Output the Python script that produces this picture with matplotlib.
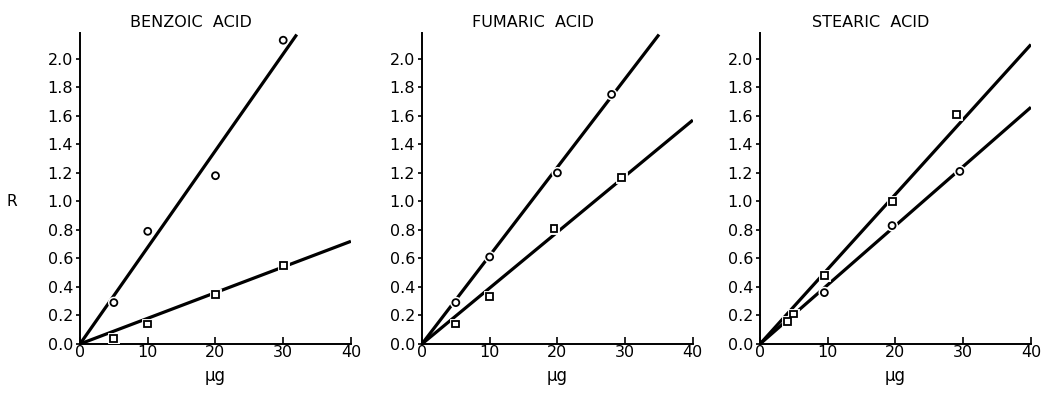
import matplotlib.pyplot as plt
import numpy as np
import matplotlib.patheffects as pe

# measured points (x in ug, R)
benz_circ_x = [5, 10, 20, 30]
benz_circ_y = [0.29, 0.79, 1.18, 2.13]
benz_sq_x = [5, 10, 20, 30]
benz_sq_y = [0.04, 0.14, 0.35, 0.55]
benz_fit1_x, benz_fit1_y = [0, 32], [0, 2.17]
benz_fit2_x, benz_fit2_y = [0, 40], [0, 0.72]

fum_circ_x = [5, 10, 20, 28]
fum_circ_y = [0.29, 0.61, 1.20, 1.75]
fum_sq_x = [5, 10, 19.5, 29.5]
fum_sq_y = [0.14, 0.33, 0.81, 1.17]
fum_fit1_x, fum_fit1_y = [0, 35], [0, 2.17]
fum_fit2_x, fum_fit2_y = [0, 40], [0, 1.57]

ste_sq_x = [4, 5, 9.5, 19.5, 29]
ste_sq_y = [0.16, 0.21, 0.48, 1.00, 1.61]
ste_circ_x = [9.5, 19.5, 29.5]
ste_circ_y = [0.36, 0.83, 1.21]
ste_fit1_x, ste_fit1_y = [0, 40], [0, 2.10]
ste_fit2_x, ste_fit2_y = [0, 40], [0, 1.66]

titles = ["BENZOIC  ACID", "FUMARIC  ACID", "STEARIC  ACID"]
x_ticks = [0, 10, 20, 30, 40]
y_ticks = np.arange(0, 2.01, 0.2)

panels = [
    (benz_circ_x, benz_circ_y, benz_sq_x, benz_sq_y, benz_fit1_x, benz_fit1_y, benz_fit2_x, benz_fit2_y),
    (fum_circ_x, fum_circ_y, fum_sq_x, fum_sq_y, fum_fit1_x, fum_fit1_y, fum_fit2_x, fum_fit2_y),
    (ste_circ_x, ste_circ_y, ste_sq_x, ste_sq_y, ste_fit1_x, ste_fit1_y, ste_fit2_x, ste_fit2_y),
]
lefts = [0.0765, 0.4034, 0.7266]

fig = plt.figure(figsize=(10.46, 3.94), dpi=100)
halo = [pe.Stroke(linewidth=3.5, foreground="white"), pe.Normal()]

for i, (cx, cy, sx, sy, f1x, f1y, f2x, f2y) in enumerate(panels):
    ax = fig.add_axes([lefts[i], 0.127, 0.259, 0.789])
    ax.plot(f1x, f1y, "-", color="black", lw=2.3, solid_capstyle="butt", zorder=2)
    ax.plot(f2x, f2y, "-", color="black", lw=2.3, solid_capstyle="butt", zorder=2)
    ax.plot(cx, cy, "o", ms=5, mfc="white", mec="black", mew=1.3, ls="none",
            zorder=3, path_effects=halo)
    ax.plot(sx, sy, "s", ms=5, mfc="white", mec="black", mew=1.3, ls="none",
            zorder=3, path_effects=halo)
    ax.set_xlim(0, 40)
    ax.set_ylim(0, 2.18)
    ax.spines["top"].set_visible(False)
    ax.spines["right"].set_visible(False)
    for s in ("left", "bottom"):
        ax.spines[s].set_linewidth(1.4)
    ax.set_xticks(x_ticks)
    ax.set_yticks(y_ticks)
    ax.set_yticklabels(["%.1f" % v for v in y_ticks])
    ax.tick_params(axis="x", direction="in", length=5, width=1.2, labelsize=11.5, pad=1)
    ax.tick_params(axis="y", direction="out", length=3, width=1.2, labelsize=11.5, pad=2)
    ax.text(0.41, 1.035, titles[i], transform=ax.transAxes, ha="center", va="center",
            fontsize=11.5)
    ax.set_xlabel("\u03bcg", fontsize=12, labelpad=5)
    if i == 0:
        ax.text(-0.25, 1.0, "R", transform=ax.get_yaxis_transform(), ha="center",
                va="center", fontsize=11)

fig.savefig("out.png", dpi=100)
